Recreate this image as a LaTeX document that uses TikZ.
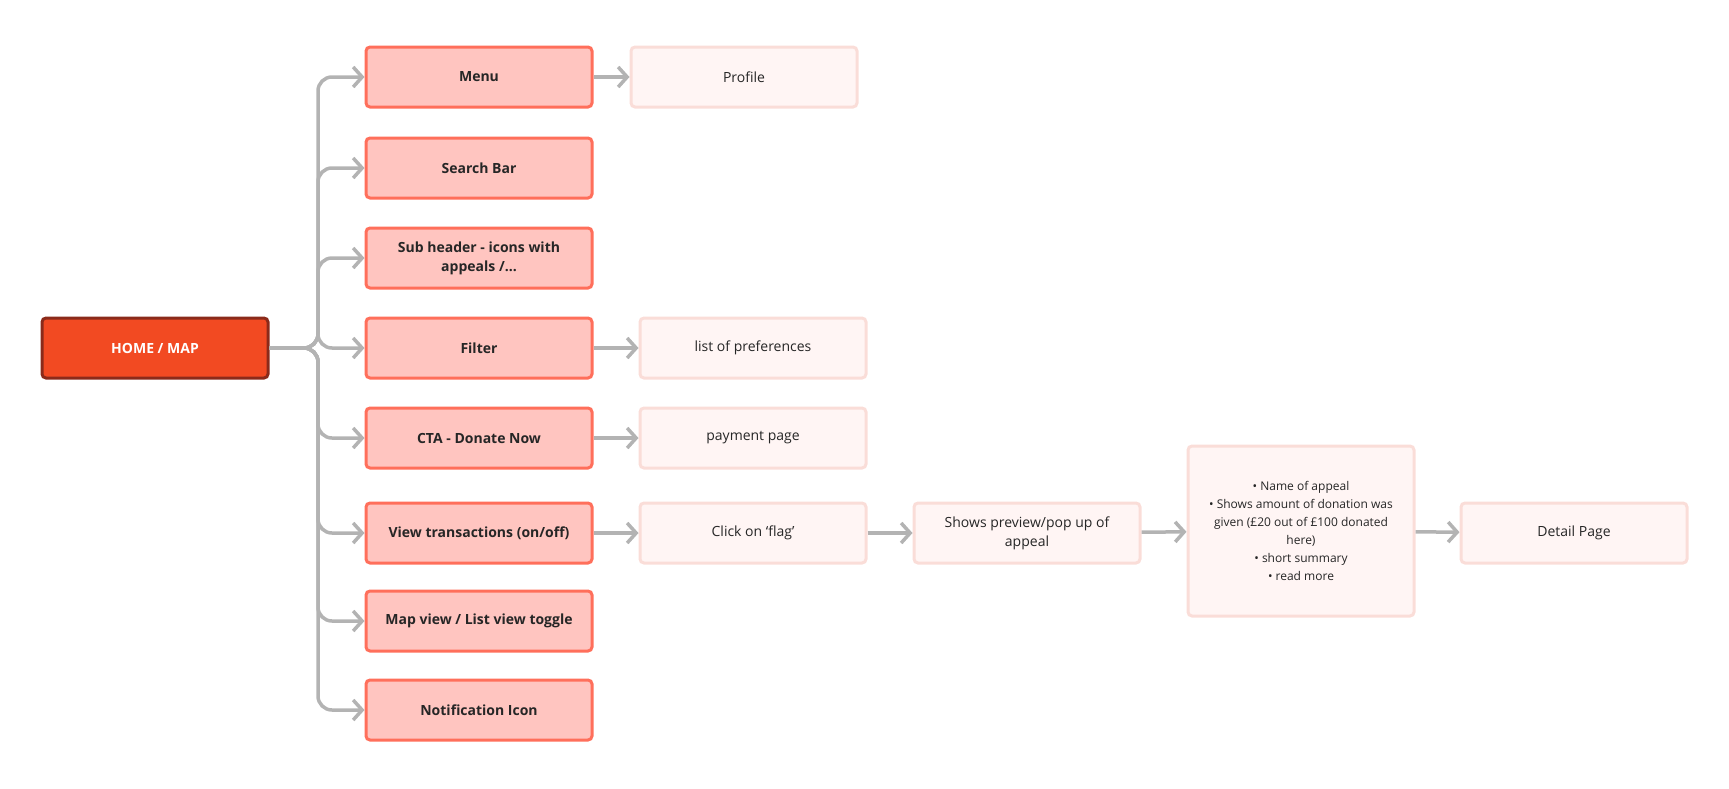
\documentclass[tikz,border=0pt]{standalone}
\usepackage{fontspec}
\setmainfont{Open Sans}
\usetikzlibrary{arrows.meta}
\definecolor{homefill}{HTML}{F24A22}
\definecolor{homeline}{HTML}{8B2A1A}
\definecolor{pagefill}{HTML}{FFC5C0}
\definecolor{pageline}{HTML}{FF6F5B}
\definecolor{subfill}{HTML}{FFF5F4}
\definecolor{subline}{HTML}{FADDD8}
\definecolor{linkgray}{HTML}{B3B3B3}
\tikzset{
  box/.style={rounded corners=4pt, line width=3pt, minimum width=226pt,
    minimum height=60pt, align=center, font=\fontsize{14}{19}\selectfont},
  home/.style={box, fill=homefill, draw=homeline, text=white, font=\fontsize{14}{19}\selectfont\bfseries},
  page/.style={box, fill=pagefill, draw=pageline, text=black!85, font=\fontsize{14}{19}\selectfont\bfseries},
  sub/.style={box, fill=subfill, draw=subline, text=black!85},
  link/.style={draw=linkgray, line width=3.5pt, rounded corners=14pt,
    -{Straight Barb[length=9pt,width=20pt,line width=3.5pt]}}
}
\begin{document}
\begin{tikzpicture}[x=1pt,y=-1pt]
    \useasboundingbox (0,0) rectangle (1729,788);

    \node[home] (home) at (155,348) {HOME / MAP};

    \node[page] (menu) at (479,77) {Menu};
    \node[page] (search) at (479,168) {Search Bar};
    \node[page] (subheader) at (479,258) {Sub header - icons with\\appeals /...};
    \node[page] (filter) at (479,348) {Filter};
    \node[page] (cta) at (479,438) {CTA - Donate Now};
    \node[page] (trans) at (479,533) {View transactions (on/off)};
    \node[page] (toggle) at (479,621) {Map view / List view toggle};
    \node[page] (notif) at (479,710) {Notification Icon};

    \node[sub] (profile) at (744,77) {Profile};
    \node[sub] (prefs) at (753,348) {list of preferences};
    \node[sub] (payment) at (753,438) {payment page};
    \node[sub] (flag) at (753,533) {Click on ‘flag’};
    \node[sub] (preview) at (1027,533) {Shows preview/pop up of\\appeal};
    \node[sub, minimum height=170pt, font=\fontsize{12}{18}\selectfont] (summary) at (1301,531)
      {\textbullet\ Name of appeal\\
       \textbullet\ Shows amount of donation was\\
       given (£20 out of £100 donated\\
       here)\\
       \textbullet\ short summary\\
       \textbullet\ read more};
    \node[sub] (detail) at (1574,533) {Detail Page};

    \coordinate (fork) at (318,348);
    \foreach \n in {menu,search,subheader,filter,cta,trans,toggle,notif}
      \draw[link] (home.east) -- (fork) |- (\n.west);

    \draw[link] (menu) -- (profile);
    \draw[link] (filter) -- (prefs);
    \draw[link] (cta) -- (payment);
    \draw[link] (trans) -- (flag);
    \draw[link] (flag) -- (preview);
    \draw[link] (preview) -- (summary);
    \draw[link] (summary) -- (detail);
\end{tikzpicture}
\end{document}
